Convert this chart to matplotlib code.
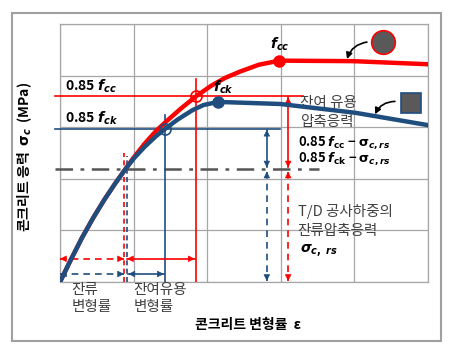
import matplotlib
matplotlib.use("Agg")
import matplotlib.pyplot as plt
from matplotlib.patches import Rectangle

plt.rcParams['font.family'] = ['Noto Sans CJK KR', 'DejaVu Sans']
plt.rcParams['mathtext.fontset'] = 'custom'
plt.rcParams['mathtext.rm'] = 'DejaVu Sans:bold'
plt.rcParams['mathtext.it'] = 'DejaVu Sans:bold:italic'
plt.rcParams['mathtext.bf'] = 'DejaVu Sans:bold'

# 곡선 데이터
strain_ck = [0.0, 0.15, 0.30, 0.45, 0.60, 0.75, 0.88, 1.00, 1.15, 1.30, 1.43,
             1.60, 1.80, 1.95, 2.15, 2.99, 4.01, 5.0]
stress_ck = [0.0, 0.44, 0.86, 1.24, 1.59, 1.91, 2.17, 2.39, 2.62, 2.82, 2.97,
             3.15, 3.33, 3.43, 3.49, 3.45, 3.28, 3.04]
strain_cc = [0.0, 0.15, 0.30, 0.45, 0.60, 0.75, 0.88, 1.00, 1.15, 1.30, 1.45,
             1.65, 1.85, 2.05, 2.25, 2.45, 2.70, 2.98, 3.98, 5.0]
stress_cc = [0.0, 0.44, 0.86, 1.24, 1.59, 1.91, 2.17, 2.41, 2.68, 2.92, 3.12,
             3.37, 3.60, 3.80, 3.96, 4.08, 4.21, 4.29, 4.28, 4.22]

peak_ck = (2.15, 3.49)
peak_cc = (2.98, 4.29)
pt85_ck = (1.43, 2.97)
pt85_cc = (1.85, 3.60)
sig_rs = 2.19
eps_rs = 0.87

RED = '#ff0000'
BLUE = '#1f4e7e'
GRID = '#a6a6a6'

fig = plt.figure(figsize=(4.57, 3.54), dpi=100)
fig.patches.append(Rectangle((12 / 457, 13 / 354), 429 / 457, 328 / 354,
                             transform=fig.transFigure, fill=False,
                             ec='#a0a0a0', lw=1.5))
ax = fig.add_axes([60 / 457, 72 / 354, 368 / 457, 258 / 354])
ax.set_xlim(0, 5)
ax.set_ylim(0, 5)
ax.set_xticks(range(6))
ax.set_yticks(range(6))
ax.tick_params(length=0, labelbottom=False, labelleft=False)
ax.grid(True, color=GRID, lw=0.9)
for s in ax.spines.values():
    s.set_color(GRID)
    s.set_linewidth(0.9)


def dbl_arrow(p0, p1, color, ls='-'):
    ax.plot([p0[0], p1[0]], [p0[1], p1[1]], color=color, lw=1.2, ls=ls,
            dashes=(4, 3) if ls == '--' else (None, None), zorder=4)
    for a, b in ((p0, p1), (p1, p0)):
        n = max(abs(a[0] - b[0]) + abs(a[1] - b[1]), 1e-6)
        dx = (a[0] - b[0]) * 0.05 / n
        dy = (a[1] - b[1]) * 0.05 / n
        ax.annotate('', xy=b, xytext=(b[0] + dx, b[1] + dy),
                    arrowprops=dict(arrowstyle='-|>', color=color, lw=0.5,
                                    mutation_scale=10, shrinkA=0, shrinkB=0),
                    zorder=5)


# 기준선
ax.plot([-0.07, 3.30], [pt85_cc[1]] * 2, color=RED, lw=1.2, clip_on=False, zorder=3)
ax.plot([-0.07, 2.99], [pt85_ck[1]] * 2, color=BLUE, lw=1.2, clip_on=False, zorder=3)
ax.plot([-0.07, 3.52], [sig_rs] * 2, color='#555555', lw=1.8, ls='-.',
        dashes=(7, 3, 1.5, 3), clip_on=False, zorder=3)
ax.plot([pt85_cc[0]] * 2, [0, 3.93], color=RED, lw=1.2, zorder=3)
ax.plot([pt85_ck[0]] * 2, [0, 3.24], color=BLUE, lw=1.2, zorder=3)
ax.plot([eps_rs] * 2, [0, 2.5], color=RED, lw=1.2, dashes=(3, 2), zorder=3)
ax.plot([0.91] * 2, [0, 2.45], color=BLUE, lw=1.2, dashes=(3, 2), zorder=3)

# 응력-변형률 곡선
ax.plot(strain_cc, stress_cc, color=RED, lw=3.2, solid_capstyle='round',
        solid_joinstyle='round', zorder=6)
ax.plot(strain_ck, stress_ck, color=BLUE, lw=3.2, solid_capstyle='round',
        solid_joinstyle='round', zorder=6)
ax.plot(*peak_cc, 'o', color=RED, ms=8, zorder=7)
ax.plot(*peak_ck, 'o', color=BLUE, ms=8, zorder=7)
ax.plot(*pt85_cc, 'o', mfc='none', mec=RED, ms=8, mew=1.2, zorder=7)
ax.plot(*pt85_ck, 'o', mfc='none', mec=BLUE, ms=8, mew=1.2, zorder=7)

# 범례 기호
ax.plot(4.39, 4.65, 'o', color='#595959', mec=RED, ms=17, mew=1.2, clip_on=False)
ax.plot(4.77, 3.47, 's', color='#595959', mec=BLUE, ms=14, mew=1.2, clip_on=False)
ax.annotate('', xy=(3.90, 4.32), xytext=(4.17, 4.65),
            arrowprops=dict(arrowstyle='-|>', color='black', lw=1.2,
                            mutation_scale=9, shrinkA=0, shrinkB=0,
                            connectionstyle='arc3,rad=0.3'), zorder=8)
ax.annotate('', xy=(4.28, 3.25), xytext=(4.55, 3.50),
            arrowprops=dict(arrowstyle='-|>', color='black', lw=1.2,
                            mutation_scale=9, shrinkA=0, shrinkB=0,
                            connectionstyle='arc3,rad=0.3'), zorder=8)

# 변형률 화살표
dbl_arrow((0.0, 0.45), (0.87, 0.45), RED, '--')
dbl_arrow((0.91, 0.45), (1.83, 0.45), RED)
dbl_arrow((0.0, 0.155), (0.87, 0.155), BLUE, '--')
dbl_arrow((0.93, 0.155), (1.41, 0.155), BLUE)
# 응력 화살표
dbl_arrow((2.81, 2.95), (2.81, 2.22), BLUE)
dbl_arrow((2.81, 2.14), (2.81, 0.02), BLUE, '--')
dbl_arrow((3.10, 3.58), (3.10, 2.22), RED)
dbl_arrow((3.10, 2.14), (3.10, 0.02), RED, '--')

# 텍스트
ax.text(0.07, 3.80, r'0.85 $f_{cc}$', fontsize=10, fontweight='bold', va='center')
ax.text(0.07, 3.18, r'0.85 $f_{ck}$', fontsize=10, fontweight='bold', va='center')
ax.text(2.08, 3.78, r'$f_{ck}$', fontsize=10, va='center', zorder=9)
ax.text(2.99, 4.60, r'$f_{cc}$', fontsize=10, ha='center', va='center')

GRAY_TXT = '#404040'
ax.text(3.26, 3.47, '잔여 유용', fontsize=10.5, color=GRAY_TXT, va='center', zorder=5)
ax.text(3.26, 3.10, '압축응력', fontsize=10.5, color=GRAY_TXT, va='center', zorder=5)
ax.text(3.23, 2.71, r'0.85 $f_{\mathrm{cc}}$ − $\mathrm{\sigma}_{c,rs}$', fontsize=9.3,
        fontweight='bold', va='center')
ax.text(3.23, 2.39, r'0.85 $f_{\mathrm{ck}}$ − $\mathrm{\sigma}_{c,rs}$', fontsize=9.3,
        fontweight='bold', va='center')
ax.text(3.23, 1.36, 'T/D 공사하중의', fontsize=10.5, color=GRAY_TXT, va='center')
ax.text(3.23, 0.99, '잔류압축응력', fontsize=10.5, color=GRAY_TXT, va='center')
ax.text(3.26, 0.62, r'$\sigma_{c,\ rs}$', fontsize=10, va='center')

ax.text(0.16, -0.15, '잔류', fontsize=10.5, color=GRAY_TXT, va='center')
ax.text(0.16, -0.48, '변형률', fontsize=10.5, color=GRAY_TXT, va='center')
ax.text(1.00, -0.15, '잔여유용', fontsize=10.5, color=GRAY_TXT, va='center')
ax.text(1.00, -0.48, '변형률', fontsize=10.5, color=GRAY_TXT, va='center')

fig.text(195 / 457, 1 - 325 / 354, '콘크리트 변형률  ε', fontsize=10,
         fontweight='bold', va='center')
fig.text(25 / 457, 1 - 157 / 354, r'콘크리트 응력  $\mathrm{\sigma}_c$  (MPa)',
         fontsize=10, fontweight='bold', rotation=90, ha='center', va='center')

fig.savefig('out.png', dpi=100)
